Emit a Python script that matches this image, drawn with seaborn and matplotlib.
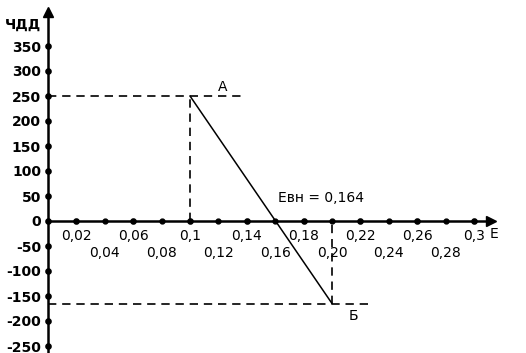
import matplotlib
matplotlib.use('Agg')
import matplotlib.pyplot as plt
import seaborn as sns
import pandas as pd

# ---- data ----
rate = [0.10, 0.20]          # E (discount rate)
npv = [250, -165]            # ЧДД
point_labels = ['А', 'Б']
irr_text = 'Евн = 0,164'
x_major = [0.02, 0.06, 0.10, 0.14, 0.18, 0.22, 0.26, 0.30]
x_major_labels = ['0,02', '0,06', '0,1', '0,14', '0,18', '0,22', '0,26', '0,3']
x_minor = [0.04, 0.08, 0.12, 0.16, 0.20, 0.24, 0.28]
x_minor_labels = ['0,04', '0,08', '0,12', '0,16', '0,20', '0,24', '0,28']
y_ticks = [-250, -200, -150, -100, -50, 0, 50, 100, 150, 200, 250, 300, 350]
y_tick_labels = [str(v) for v in y_ticks]

sns.set_theme(style='white')
plt.rcParams['font.family'] = ['DejaVu Sans']

fig = plt.figure(figsize=(5.26, 3.53), dpi=100)
ax = fig.add_axes([0, 0, 1, 1])
ax.set_xlim(-0.0338, 0.3366)
ax.set_ylim(-264, 442)

df = pd.DataFrame({'E': rate, 'ЧДД': npv})
sns.lineplot(data=df, x='E', y='ЧДД', ax=ax, color='black', lw=1.1)

dash = (0, (5, 3.5))
# guide lines for A and Б
ax.hlines(npv[0], 0, 0.137, colors='black', linestyles=dash, lw=1.2)
ax.vlines(rate[0], 0, npv[0], colors='black', linestyles=dash, lw=1.2)
ax.hlines(npv[1], 0, 0.225, colors='black', linestyles=dash, lw=1.2)
ax.vlines(rate[1], npv[1], 0, colors='black', linestyles=dash, lw=1.2)

# axes through origin
for s in ['top', 'right']:
    ax.spines[s].set_visible(False)
ax.spines['left'].set_position(('data', 0))
ax.spines['bottom'].set_position(('data', 0))
ax.spines['left'].set_bounds(-264, 420)
ax.spines['bottom'].set_bounds(0, 0.31)
for s in ['left', 'bottom']:
    ax.spines[s].set_linewidth(1.8)
    ax.spines[s].set_color('black')
# arrowheads
ax.plot([0.312], [0], marker='>', ms=7, color='black', clip_on=False)
ax.plot([0], [418], marker='^', ms=7, color='black', clip_on=False)

ax.set_xlabel('')
ax.set_ylabel('')
ax.set_yticks(y_ticks)
ax.set_yticklabels(y_tick_labels, fontsize=10, fontweight='bold')
ax.set_xticks(x_major)
ax.set_xticklabels(x_major_labels, fontsize=10)
ax.set_xticks(x_minor, minor=True)
ax.set_xticklabels(x_minor_labels, minor=True, fontsize=10)

ax.tick_params(axis='y', which='major', direction='in', length=4, pad=5,
               colors='black', left=True)
ax.tick_params(axis='x', which='major', direction='in', length=4, pad=6,
               colors='black', bottom=True)
ax.tick_params(axis='x', which='minor', direction='in', length=4, pad=18,
               colors='black', bottom=True)
for t in (ax.yaxis.get_major_ticks() + ax.xaxis.get_major_ticks()
          + ax.xaxis.get_minor_ticks()):
    t.tick1line.set_marker('o')
    t.tick1line.set_markersize(3.5)
    t.tick1line.set_markerfacecolor('black')
    t.tick1line.set_markeredgecolor('black')

ax.text(-0.005, 392, 'ЧДД', ha='right', va='center', fontsize=10,
        fontweight='bold', color='black')
ax.text(0.311, -12, 'E', ha='left', va='top', fontsize=10, color='black')
ax.text(0.1197, 268, point_labels[0], ha='left', va='center', fontsize=10,
        color='black')
ax.text(0.212, -191, point_labels[1], ha='left', va='center', fontsize=10,
        color='black')
ax.text(0.162, 46, irr_text, ha='left', va='center', fontsize=10,
        color='black')

fig.savefig('out.png', dpi=100)
